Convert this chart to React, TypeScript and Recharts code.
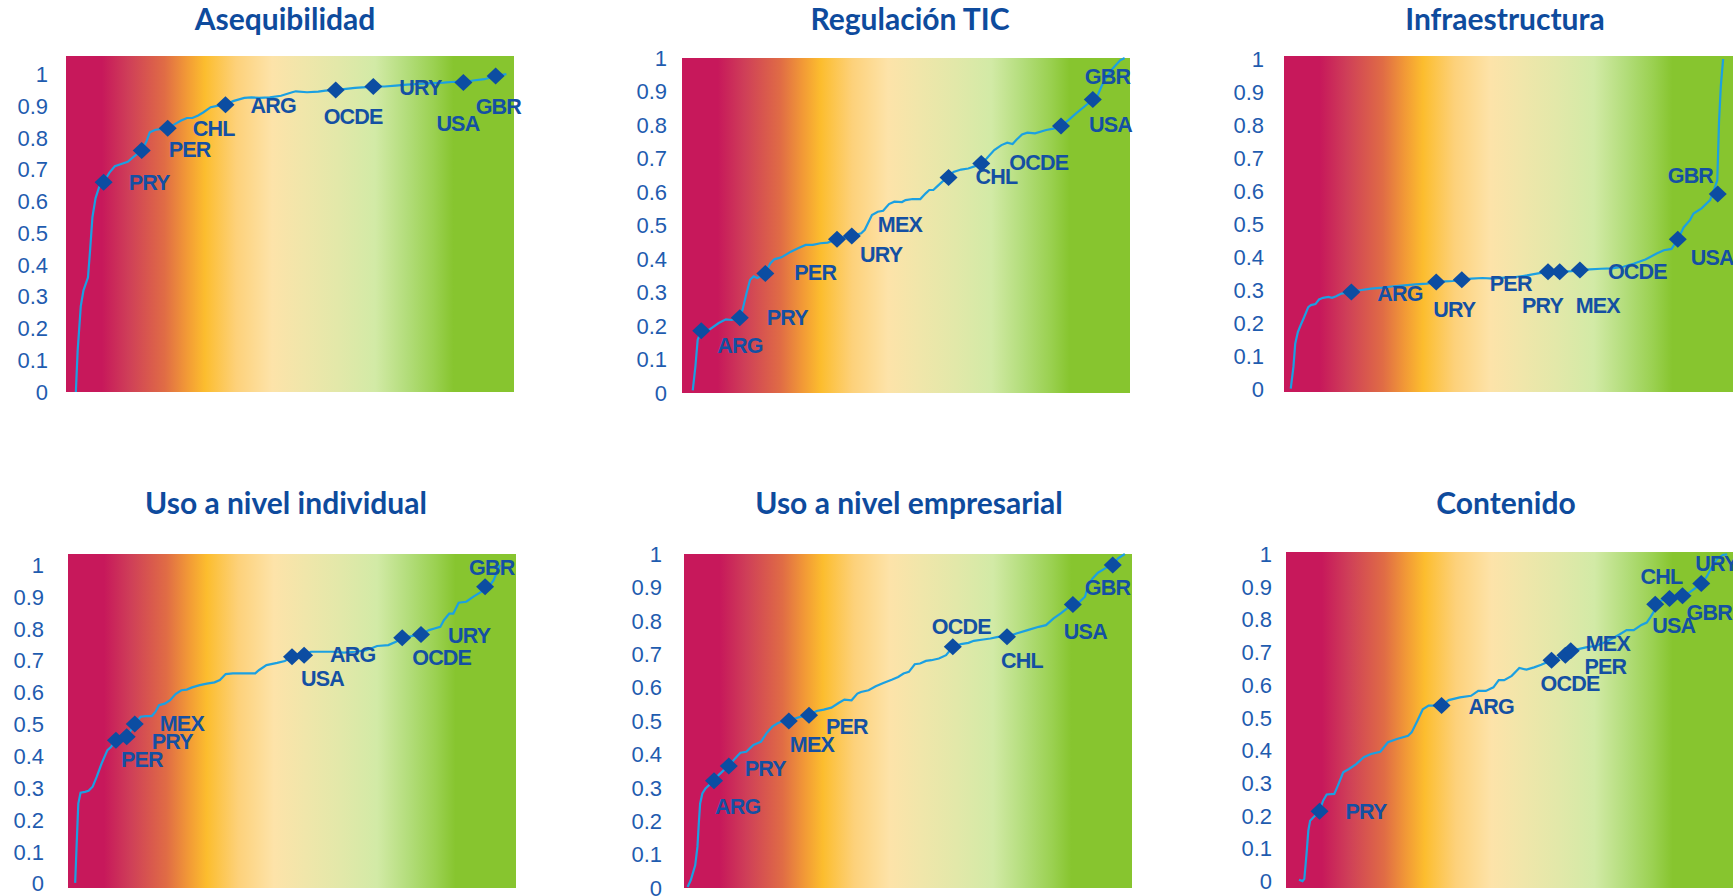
import React from "react";
import { ScatterChart, Scatter, XAxis, YAxis, ReferenceArea } from "recharts";

// x = posición horizontal en el ranking (0-100), v = puntaje normalizado
const curvaAsequibilidad: [number, number][] = [
  [2.2, 0], [2.6, 0.13], [3.3, 0.27], [3.9, 0.32], [4.9, 0.36], [5.4, 0.45], [5.9, 0.55], [6.6, 0.61],
  [7.4, 0.645], [8.4, 0.66], [9.7, 0.69], [10.9, 0.71], [12.5, 0.718], [13.8, 0.724], [15.0, 0.739],
  [16.9, 0.76], [17.9, 0.786], [18.7, 0.817], [20.0, 0.825], [21.6, 0.828], [22.7, 0.83], [24.1, 0.841],
  [25.7, 0.854], [27.0, 0.862], [28.2, 0.862], [29.5, 0.87], [30.7, 0.88], [32.3, 0.896], [34.0, 0.901],
  [35.6, 0.904], [37.3, 0.915], [39.8, 0.925], [41.4, 0.927], [43.1, 0.925], [45.5, 0.927], [48.0, 0.932],
  [50.5, 0.943], [51.3, 0.946], [53.8, 0.943], [56.3, 0.945], [57.9, 0.948], [60.2, 0.95], [62.0, 0.953],
  [64.5, 0.957], [67.0, 0.959], [68.6, 0.961], [71.1, 0.961], [73.6, 0.964], [76.1, 0.967], [78.5, 0.969],
  [81.0, 0.971], [84.3, 0.973], [86.8, 0.976], [88.7, 0.974], [90.9, 0.98], [93.4, 0.984], [95.9, 0.994],
  [98.3, 1.0],
];
const paisesAsequibilidad = ["PRY", "PER", "CHL", "ARG", "OCDE", "URY", "USA", "GBR"];
const xAsequibilidad = [8.4, 16.9, 22.7, 35.6, 60.2, 68.6, 88.7, 95.9];
const vAsequibilidad = [0.66, 0.76, 0.83, 0.904, 0.95, 0.961, 0.974, 0.994];

const curvaRegulacion: [number, number][] = [
  [2.4, 0.008], [3.0, 0.08], [3.5, 0.159], [4.3, 0.186], [6.1, 0.189], [8.2, 0.209], [9.8, 0.22],
  [11.1, 0.218], [12.9, 0.225], [13.5, 0.248], [14.4, 0.298], [15.2, 0.338], [16.0, 0.348], [16.8, 0.343],
  [18.6, 0.357], [19.7, 0.387], [20.6, 0.399], [22.2, 0.405], [24.3, 0.422], [25.9, 0.432], [27.6, 0.442],
  [29.2, 0.442], [30.9, 0.447], [32.5, 0.449], [34.6, 0.459], [37.9, 0.469], [40.0, 0.477], [40.8, 0.487],
  [42.4, 0.531], [43.7, 0.541], [44.9, 0.544], [46.2, 0.564], [47.4, 0.571], [49.1, 0.57], [49.9, 0.576],
  [51.5, 0.579], [53.2, 0.579], [54.4, 0.596], [55.2, 0.606], [56.1, 0.606], [56.9, 0.616], [58.1, 0.631],
  [59.5, 0.643], [60.6, 0.66], [62.3, 0.667], [63.9, 0.67], [65.6, 0.678], [66.8, 0.685], [68.0, 0.7],
  [69.7, 0.725], [71.3, 0.74], [72.6, 0.747], [73.8, 0.743], [74.6, 0.755], [75.9, 0.772], [77.1, 0.777],
  [78.8, 0.775], [81.3, 0.785], [82.9, 0.789], [84.6, 0.797], [86.2, 0.814], [87.9, 0.834], [89.9, 0.856],
  [91.7, 0.876], [92.8, 0.889], [93.6, 0.914], [94.5, 0.938], [96.1, 0.968], [97.8, 0.993], [98.8, 1.0],
];
const paisesRegulacion = ["ARG", "PRY", "PER", "URY", "MEX", "CHL", "OCDE", "USA", "GBR"];
const xRegulacion = [4.3, 12.9, 18.6, 34.6, 37.9, 59.5, 66.8, 84.6, 91.7];
const vRegulacion = [0.186, 0.225, 0.357, 0.459, 0.469, 0.643, 0.685, 0.797, 0.876];

const curvaInfraestructura: [number, number][] = [
  [1.5, 0.002], [2.1, 0.068], [2.5, 0.138], [3.1, 0.174], [3.7, 0.194], [4.5, 0.219], [5.4, 0.249],
  [6.0, 0.255], [7.0, 0.258], [7.8, 0.272], [8.7, 0.277], [9.9, 0.28], [10.7, 0.277], [11.6, 0.282],
  [12.8, 0.29], [15.0, 0.295], [16.9, 0.3], [19.4, 0.305], [21.9, 0.308], [24.4, 0.312], [26.8, 0.315],
  [29.3, 0.318], [31.8, 0.32], [33.9, 0.325], [35.9, 0.327], [37.6, 0.328], [39.6, 0.332], [41.7, 0.335],
  [44.2, 0.337], [46.7, 0.335], [49.1, 0.338], [51.6, 0.34], [54.1, 0.345], [56.6, 0.351], [58.9, 0.356],
  [61.5, 0.356], [64.0, 0.358], [65.9, 0.361], [68.1, 0.363], [70.6, 0.365], [73.1, 0.366], [75.6, 0.371],
  [78.0, 0.381], [80.5, 0.393], [83.0, 0.411], [84.6, 0.421], [86.3, 0.425], [87.7, 0.454], [89.0, 0.49],
  [90.4, 0.512], [91.2, 0.532], [93.0, 0.548], [94.9, 0.573], [96.0, 0.613], [96.5, 0.633], [96.9, 0.815],
  [97.3, 0.92], [97.8, 1.0],
];
const paisesInfraestructura = ["ARG", "URY", "PER", "PRY", "MEX", "OCDE", "USA", "GBR"];
const xInfraestructura = [15.0, 33.9, 39.6, 58.8, 61.4, 65.9, 87.7, 96.6];
const vInfraestructura = [0.295, 0.325, 0.332, 0.356, 0.356, 0.361, 0.454, 0.591];

const curvaIndividual: [number, number][] = [
  [1.6, 0.002], [2.0, 0.147], [2.3, 0.251], [2.8, 0.285], [3.8, 0.288], [4.6, 0.291], [5.5, 0.304],
  [6.4, 0.335], [7.5, 0.377], [8.8, 0.419], [9.6, 0.429], [10.7, 0.45], [13.1, 0.461], [14.9, 0.501],
  [16.2, 0.524], [17.4, 0.526], [18.7, 0.526], [19.5, 0.539], [20.3, 0.56], [21.6, 0.565], [22.8, 0.576],
  [24.0, 0.595], [25.3, 0.607], [26.5, 0.609], [27.7, 0.616], [29.4, 0.623], [31.0, 0.628], [32.7, 0.632],
  [33.9, 0.639], [35.2, 0.658], [36.8, 0.66], [39.3, 0.66], [41.8, 0.66], [42.6, 0.67], [44.3, 0.686],
  [46.7, 0.693], [48.4, 0.699], [50.0, 0.712], [52.7, 0.717], [54.2, 0.728], [55.8, 0.728], [59.1, 0.728],
  [61.6, 0.725], [64.1, 0.728], [66.6, 0.733], [69.0, 0.746], [71.5, 0.749], [73.2, 0.759], [74.6, 0.772],
  [78.8, 0.782], [80.6, 0.796], [81.8, 0.801], [83.1, 0.806], [83.9, 0.827], [85.1, 0.848], [86.0, 0.848],
  [87.2, 0.882], [88.9, 0.885], [90.5, 0.901], [92.2, 0.916], [93.1, 0.932], [94.2, 0.937], [95.0, 0.953],
  [95.9, 0.984], [96.4, 1.0],
];
const paisesIndividual = ["PER", "PRY", "MEX", "USA", "ARG", "OCDE", "URY", "GBR"];
const xIndividual = [10.7, 13.1, 14.9, 50.0, 52.7, 74.6, 78.8, 93.1];
const vIndividual = [0.45, 0.461, 0.501, 0.712, 0.717, 0.772, 0.782, 0.932];

const curvaEmpresarial: [number, number][] = [
  [0.8, 0.003], [1.5, 0.023], [2.5, 0.068], [3.0, 0.123], [3.3, 0.193], [3.6, 0.253], [4.1, 0.283],
  [4.8, 0.298], [5.6, 0.308], [6.7, 0.321], [7.7, 0.338], [8.9, 0.353], [10.0, 0.365], [11.4, 0.388],
  [12.6, 0.405], [13.9, 0.408], [14.7, 0.418], [15.5, 0.428], [17.2, 0.438], [18.4, 0.463], [19.7, 0.483],
  [20.9, 0.493], [22.1, 0.5], [23.4, 0.5], [24.6, 0.507], [26.3, 0.514], [27.9, 0.517], [29.6, 0.53],
  [31.2, 0.534], [32.9, 0.54], [34.5, 0.554], [35.8, 0.564], [37.4, 0.562], [38.7, 0.582], [39.5, 0.587],
  [41.2, 0.592], [42.8, 0.604], [44.5, 0.614], [46.5, 0.624], [47.8, 0.632], [49.0, 0.642], [50.2, 0.647],
  [51.5, 0.67], [52.7, 0.672], [54.0, 0.68], [55.2, 0.682], [56.9, 0.687], [58.5, 0.697], [60.0, 0.722],
  [61.8, 0.73], [63.5, 0.734], [64.7, 0.74], [66.8, 0.744], [68.4, 0.747], [70.1, 0.752], [72.1, 0.752],
  [74.2, 0.762], [76.7, 0.772], [79.2, 0.782], [80.8, 0.787], [82.5, 0.807], [84.1, 0.822], [85.8, 0.84],
  [86.8, 0.849], [88.3, 0.857], [89.5, 0.872], [90.3, 0.907], [91.2, 0.927], [92.4, 0.944], [94.0, 0.957],
  [95.7, 0.967], [96.9, 0.987], [98.4, 1.0],
];
const paisesEmpresarial = ["ARG", "PRY", "MEX", "PER", "OCDE", "CHL", "USA", "GBR"];
const xEmpresarial = [6.7, 10.0, 23.4, 27.9, 60.0, 72.1, 86.8, 95.7];
const vEmpresarial = [0.321, 0.365, 0.5, 0.517, 0.722, 0.752, 0.849, 0.967];

const curvaContenido: [number, number][] = [
  [2.9, 0.004], [3.7, 0.0], [4.1, 0.007], [4.6, 0.084], [5.0, 0.155], [5.4, 0.185], [6.2, 0.196],
  [7.5, 0.214], [8.3, 0.246], [9.1, 0.265], [10.8, 0.267], [11.6, 0.292], [12.8, 0.333], [14.1, 0.343],
  [15.7, 0.358], [17.4, 0.379], [19.0, 0.389], [21.1, 0.396], [22.8, 0.425], [24.8, 0.435], [27.3, 0.445],
  [28.1, 0.455], [29.4, 0.491], [30.6, 0.526], [31.9, 0.537], [34.8, 0.537], [36.4, 0.554], [38.9, 0.562],
  [41.4, 0.567], [43.0, 0.582], [44.7, 0.582], [46.4, 0.593], [47.6, 0.615], [48.8, 0.615], [50.5, 0.628],
  [52.2, 0.652], [53.8, 0.647], [55.5, 0.654], [57.1, 0.662], [59.4, 0.676], [62.5, 0.691], [63.7, 0.705],
  [65.4, 0.71], [67.1, 0.715], [69.5, 0.72], [72.0, 0.735], [74.5, 0.754], [76.2, 0.768], [77.8, 0.768],
  [79.5, 0.784], [80.7, 0.791], [81.5, 0.807], [82.4, 0.827], [82.6, 0.847], [83.6, 0.857], [85.8, 0.865],
  [87.3, 0.87], [88.7, 0.873], [90.2, 0.883], [91.5, 0.896], [92.9, 0.911], [94.0, 0.929], [95.2, 0.959],
  [96.4, 0.985], [97.7, 0.998], [98.7, 1.0],
];
const paisesContenido = ["PRY", "ARG", "OCDE", "PER", "MEX", "USA", "CHL", "GBR", "URY"];
const xContenido = [7.5, 34.8, 59.4, 62.5, 63.7, 82.6, 85.8, 88.7, 92.9];
const vContenido = [0.214, 0.537, 0.676, 0.691, 0.705, 0.847, 0.865, 0.873, 0.911];

const TICKS = [0, 0.1, 0.2, 0.3, 0.4, 0.5, 0.6, 0.7, 0.8, 0.9, 1];

// colores
const AZUL_MARCA = "#0C4DA2";
const AZUL_LINEA = "#1BA0E2";
const AZUL_TEXTO = "#1450A3";
const AZUL_EJE = "#1F5CAF";
const AZUL_TITULO = "#0E4B9D";

const FONDO: [number, string][] = [
  [0, "#C7185B"], [0.08, "#C7185B"], [0.14, "#CF3F58"], [0.22, "#E06C45"], [0.27, "#F29A36"],
  [0.31, "#FCBD2E"], [0.38, "#FDD17A"], [0.46, "#FDE3A9"], [0.53, "#F0E6AA"], [0.61, "#E2E8A9"],
  [0.69, "#D2EAA6"], [0.76, "#B3DD7B"], [0.82, "#9BD152"], [0.865, "#87C52F"], [1, "#87C52F"],
];

// desplazamiento de cada etiqueta respecto del rombo [dx, dy]
type Pos = Record<string, [number, number]>;
const posAsequibilidad: Pos = {
  PRY: [25, 1], PER: [27, 0], CHL: [25, 1], ARG: [25, 1], OCDE: [-12, 27], URY: [26, 1], USA: [-27, 42], GBR: [-20, 31],
};
const posRegulacion: Pos = {
  ARG: [16, 15], PRY: [27, 0], PER: [29, 0], URY: [23, 16], MEX: [26, -11], CHL: [27, -1], OCDE: [28, -1], USA: [28, -1], GBR: [-8, -23],
};
const posInfraestructura: Pos = {
  ARG: [26, 2], URY: [-3, 28], PER: [28, 4], PRY: [-26, 34], MEX: [16, 34], OCDE: [28, 2], USA: [13, 19], GBR: [-50, -18],
};
const posIndividual: Pos = {
  PER: [5, 20], PRY: [25, 5], MEX: [25, 0], USA: [9, 22], ARG: [26, 0], OCDE: [10, 20], URY: [27, 1], GBR: [-16, -19],
};
const posEmpresarial: Pos = {
  ARG: [1, 26], PRY: [16, 3], MEX: [1, 24], PER: [17, 12], OCDE: [-21, -20], CHL: [-6, 24], USA: [-9, 28], GBR: [-28, 23],
};
const posContenido: Pos = {
  PRY: [26, 1], ARG: [27, 1], OCDE: [-11, 24], PER: [19, 12], MEX: [15, -7], USA: [-3, 22], CHL: [-29, -21], GBR: [4, 17], URY: [-6, -19],
};

type Panel = {
  id: string;
  titulo: string;
  box: { left: number; top: number; width: number; height: number };
  dominio: [number, number];
  gap: number;
  tituloX: number;
  tituloY: number;
  curva: [number, number][];
  paises: string[];
  px: number[];
  pv: number[];
  pos: Pos;
};

const panels: Panel[] = [
  { id: "p1", titulo: "Asequibilidad", box: { left: 66, top: 56, width: 448, height: 336 }, dominio: [0, 1.057], gap: 18, tituloX: 285, tituloY: 30, curva: curvaAsequibilidad, paises: paisesAsequibilidad, px: xAsequibilidad, pv: vAsequibilidad, pos: posAsequibilidad },
  { id: "p2", titulo: "Regulación TIC", box: { left: 682, top: 58, width: 448, height: 335 }, dominio: [0, 1], gap: 15, tituloX: 910, tituloY: 30, curva: curvaRegulacion, paises: paisesRegulacion, px: xRegulacion, pv: vRegulacion, pos: posRegulacion },
  { id: "p3", titulo: "Infraestructura", box: { left: 1284, top: 56, width: 449, height: 336 }, dominio: [-0.008, 1.009], gap: 20, tituloX: 1505, tituloY: 30, curva: curvaInfraestructura, paises: paisesInfraestructura, px: xInfraestructura, pv: vInfraestructura, pos: posInfraestructura },
  { id: "p4", titulo: "Uso a nivel individual", box: { left: 68, top: 554, width: 448, height: 334 }, dominio: [-0.014, 1.035], gap: 24, tituloX: 286, tituloY: 514, curva: curvaIndividual, paises: paisesIndividual, px: xIndividual, pv: vIndividual, pos: posIndividual },
  { id: "p5", titulo: "Uso a nivel empresarial", box: { left: 684, top: 554, width: 448, height: 334 }, dominio: [0, 1], gap: 22, tituloX: 909, tituloY: 514, curva: curvaEmpresarial, paises: paisesEmpresarial, px: xEmpresarial, pv: vEmpresarial, pos: posEmpresarial },
  { id: "p6", titulo: "Contenido", box: { left: 1286, top: 552, width: 447, height: 336 }, dominio: [-0.021, 1.007], gap: 14, tituloX: 1506, tituloY: 514, curva: curvaContenido, paises: paisesContenido, px: xContenido, pv: vContenido, pos: posContenido },
];

const EJE_W = 60;
const MV = 22; // margen vertical, deja sitio a las etiquetas 0 y 1
const MR = 40; // margen derecho, para etiquetas que salen del área

function Rombo(props: any) {
  const { cx, cy } = props;
  if (cx == null || cy == null) return <g />;
  return <polygon points={`${cx},${cy - 8.5} ${cx + 9},${cy} ${cx},${cy + 8.5} ${cx - 9},${cy}`} fill={AZUL_MARCA} />;
}

function Grafico({ p }: { p: Panel }) {
  const curva = p.curva.map(([x, v]) => ({ x, v }));
  const marcas = p.paises.map((name, i) => ({ x: p.px[i], v: p.pv[i], name }));

  const fondo = (s: any) => (
    <g>
      <defs>
        <linearGradient id={`grad-${p.id}`} x1="0" y1="0" x2="1" y2="0">
          {FONDO.map(([o, c]) => (
            <stop key={o} offset={o} stopColor={c} />
          ))}
        </linearGradient>
      </defs>
      <rect x={s.x} y={s.y} width={s.width} height={s.height} fill={`url(#grad-${p.id})`} />
    </g>
  );

  const etiqueta = (s: any) => {
    const name = s.payload?.name ?? s.name;
    const off = p.pos[name] || [20, 0];
    return (
      <text
        x={s.cx + off[0]}
        y={s.cy + off[1]}
        dominantBaseline="central"
        textAnchor="start"
        fill={AZUL_TEXTO}
        style={{ fontFamily: "'Liberation Sans', Arial, sans-serif", fontWeight: 700, fontSize: 21.5, letterSpacing: -0.8 }}
      >
        {name}
      </text>
    );
  };

  return (
    <div style={{ position: "absolute", left: p.box.left - EJE_W, top: p.box.top - MV }}>
      <ScatterChart
        width={p.box.width + EJE_W + MR}
        height={p.box.height + 2 * MV}
        margin={{ top: MV, right: MR, bottom: MV, left: 0 }}
      >
        <XAxis type="number" dataKey="x" domain={[0, 100]} hide />
        <YAxis
          type="number"
          dataKey="v"
          domain={p.dominio}
          ticks={TICKS}
          interval={0}
          width={EJE_W}
          axisLine={false}
          tickLine={false}
          tickSize={0}
          tickMargin={p.gap}
          tickFormatter={(t: number) => String(t)}
          tick={{ fill: AZUL_EJE, fontSize: 22, fontFamily: "'Liberation Sans', Arial, sans-serif" }}
        />
        <ReferenceArea x1={0} x2={100} y1={p.dominio[0]} y2={p.dominio[1]} shape={fondo} />
        <Scatter
          data={curva}
          line={{ stroke: AZUL_LINEA, strokeWidth: 2.2 }}
          lineType="joint"
          shape={() => <g />}
          isAnimationActive={false}
        />
        <Scatter data={marcas} shape={Rombo} isAnimationActive={false} />
        <Scatter data={marcas} shape={etiqueta} isAnimationActive={false} />
      </ScatterChart>
    </div>
  );
}

export default function App() {
  return (
    <div style={{ position: "absolute", left: 0, top: 0, width: 1733, height: 896, overflow: "hidden", background: "#fff" }}>
      {panels.map((p) => (
        <Grafico key={p.id} p={p} />
      ))}
      <svg width={1733} height={896} style={{ position: "absolute", left: 0, top: 0, pointerEvents: "none" }}>
        {panels.map((p) => (
          <text
            key={p.id}
            x={p.tituloX}
            y={p.tituloY}
            textAnchor="middle"
            fill={AZUL_TITULO}
            style={{ fontFamily: "Lato, 'Open Sans', sans-serif", fontWeight: 700, fontSize: 30 }}
          >
            {p.titulo}
          </text>
        ))}
      </svg>
    </div>
  );
}
